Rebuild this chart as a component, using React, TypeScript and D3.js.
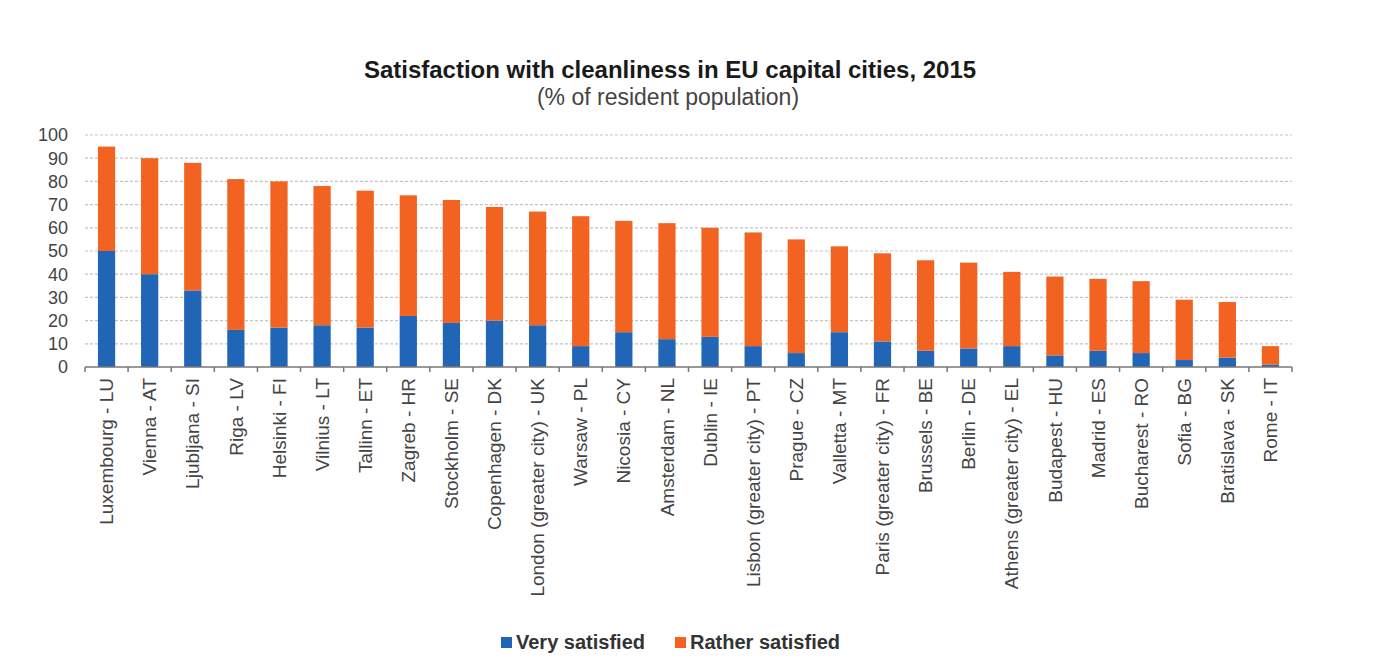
import { useEffect, useRef } from "react";
import * as d3 from "d3";

const cities = [
  "Luxembourg - LU", "Vienna - AT", "Ljubljana - SI", "Riga - LV", "Helsinki - FI",
  "Vilnius - LT", "Tallinn - ET", "Zagreb - HR", "Stockholm - SE", "Copenhagen - DK",
  "London (greater city) - UK", "Warsaw - PL", "Nicosia - CY", "Amsterdam - NL",
  "Dublin - IE", "Lisbon (greater city) - PT", "Prague - CZ", "Valletta - MT",
  "Paris (greater city) - FR", "Brussels - BE", "Berlin - DE", "Athens (greater city) - EL",
  "Budapest - HU", "Madrid - ES", "Bucharest - RO", "Sofia - BG", "Bratislava - SK", "Rome - IT",
];
const verySatisfied = [50, 40, 33, 16, 17, 18, 17, 22, 19, 20, 18, 9, 15, 12, 13, 9, 6, 15, 11, 7, 8, 9, 5, 7, 6, 3, 4, 1];
const ratherSatisfied = [45, 50, 55, 65, 63, 60, 59, 52, 53, 49, 49, 56, 48, 50, 47, 49, 49, 37, 38, 39, 37, 32, 34, 31, 31, 26, 24, 8];
const yTicks = [0, 10, 20, 30, 40, 50, 60, 70, 80, 90, 100];
const seriesNames = ["Very satisfied", "Rather satisfied"];
const seriesColors = ["#2166b6", "#f26322"];

const FONT = "'Liberation Sans', Arial, sans-serif";

export default function App() {
  const svgRef = useRef<SVGSVGElement>(null);
  const width = 1400;
  const height = 672;

  useEffect(() => {
    if (!svgRef.current) return;
    const svg = d3.select(svgRef.current);
    svg.selectAll("*").remove();

    const left = 85;
    const right = 1292;
    const top = 135;
    const bottom = 367;

    const rows = cities.map((c, i) => ({
      city: c,
      very: verySatisfied[i],
      rather: ratherSatisfied[i],
    }));

    const x = d3
      .scaleBand()
      .domain(cities)
      .range([left, right])
      .paddingInner(0.6)
      .paddingOuter(0.3);

    const y = d3.scaleLinear().domain([0, 100]).range([bottom, top]);

    // title
    svg
      .append("text")
      .attr("x", 670)
      .attr("y", 78)
      .attr("text-anchor", "middle")
      .style("font-family", FONT)
      .style("font-weight", "bold")
      .style("font-size", "24px")
      .style("fill", "#1a1a1a")
      .text("Satisfaction with cleanliness in EU capital cities, 2015");

    svg
      .append("text")
      .attr("x", 668)
      .attr("y", 105)
      .attr("text-anchor", "middle")
      .style("font-family", FONT)
      .style("font-size", "23px")
      .style("fill", "#444")
      .text("(% of resident population)");

    // grid
    svg
      .append("g")
      .selectAll("line")
      .data(yTicks.filter((t) => t > 0))
      .enter()
      .append("line")
      .attr("x1", left)
      .attr("x2", right)
      .attr("y1", (d) => y(d))
      .attr("y2", (d) => y(d))
      .attr("stroke", "#c4c4c4")
      .attr("stroke-width", 1.2)
      .attr("stroke-dasharray", "3,2");

    // y labels
    svg
      .append("g")
      .selectAll("text")
      .data(yTicks)
      .enter()
      .append("text")
      .attr("x", 68)
      .attr("y", (d) => y(d))
      .attr("dy", "0.35em")
      .attr("text-anchor", "end")
      .style("font-family", FONT)
      .style("font-size", "18px")
      .style("fill", "#444")
      .text((d) => String(d));

    // stacked bars
    const stack = d3.stack<{ city: string; very: number; rather: number }>().keys(["very", "rather"]);
    const layers = stack(rows);

    svg
      .append("g")
      .selectAll("g")
      .data(layers)
      .enter()
      .append("g")
      .attr("fill", (_, i) => seriesColors[i])
      .selectAll("rect")
      .data((d) => d)
      .enter()
      .append("rect")
      .attr("x", (d) => x(d.data.city) ?? 0)
      .attr("width", x.bandwidth())
      .attr("y", (d) => y(d[1]))
      .attr("height", (d) => y(d[0]) - y(d[1]));

    // x axis line and ticks
    const step = x.step();
    const axis = svg.append("g");
    axis
      .append("line")
      .attr("x1", left)
      .attr("x2", right)
      .attr("y1", bottom)
      .attr("y2", bottom)
      .attr("stroke", "#777")
      .attr("stroke-width", 1.5);
    axis
      .selectAll(".tk")
      .data(d3.range(cities.length + 1))
      .enter()
      .append("line")
      .attr("class", "tk")
      .attr("x1", (i) => left + i * step)
      .attr("x2", (i) => left + i * step)
      .attr("y1", bottom)
      .attr("y2", bottom + 5)
      .attr("stroke", "#777")
      .attr("stroke-width", 1.5);

    // x labels
    axis
      .selectAll(".lbl")
      .data(cities)
      .enter()
      .append("text")
      .attr("class", "lbl")
      .attr(
        "transform",
        (d) => `translate(${(x(d) ?? 0) + x.bandwidth() / 2},378) rotate(-90)`
      )
      .attr("dy", "0.35em")
      .attr("text-anchor", "end")
      .style("font-family", FONT)
      .style("font-size", "19px")
      .style("fill", "#444")
      .text((d) => d);

    // legend
    const legendX = [501, 675];
    const lg = svg
      .append("g")
      .selectAll("g")
      .data(seriesNames)
      .enter()
      .append("g")
      .attr("transform", (_, i) => `translate(${legendX[i]},637)`);
    lg.append("rect")
      .attr("width", 11)
      .attr("height", 11)
      .attr("fill", (_, i) => seriesColors[i]);
    lg.append("text")
      .attr("x", 15)
      .attr("y", 12)
      .style("font-family", FONT)
      .style("font-weight", "bold")
      .style("font-size", "20px")
      .style("fill", "#333")
      .text((d) => d);
  }, []);

  return (
    <svg
      ref={svgRef}
      width={width}
      height={height}
      style={{ position: "absolute", left: 0, top: 0, background: "#fff", display: "block" }}
    />
  );
}
